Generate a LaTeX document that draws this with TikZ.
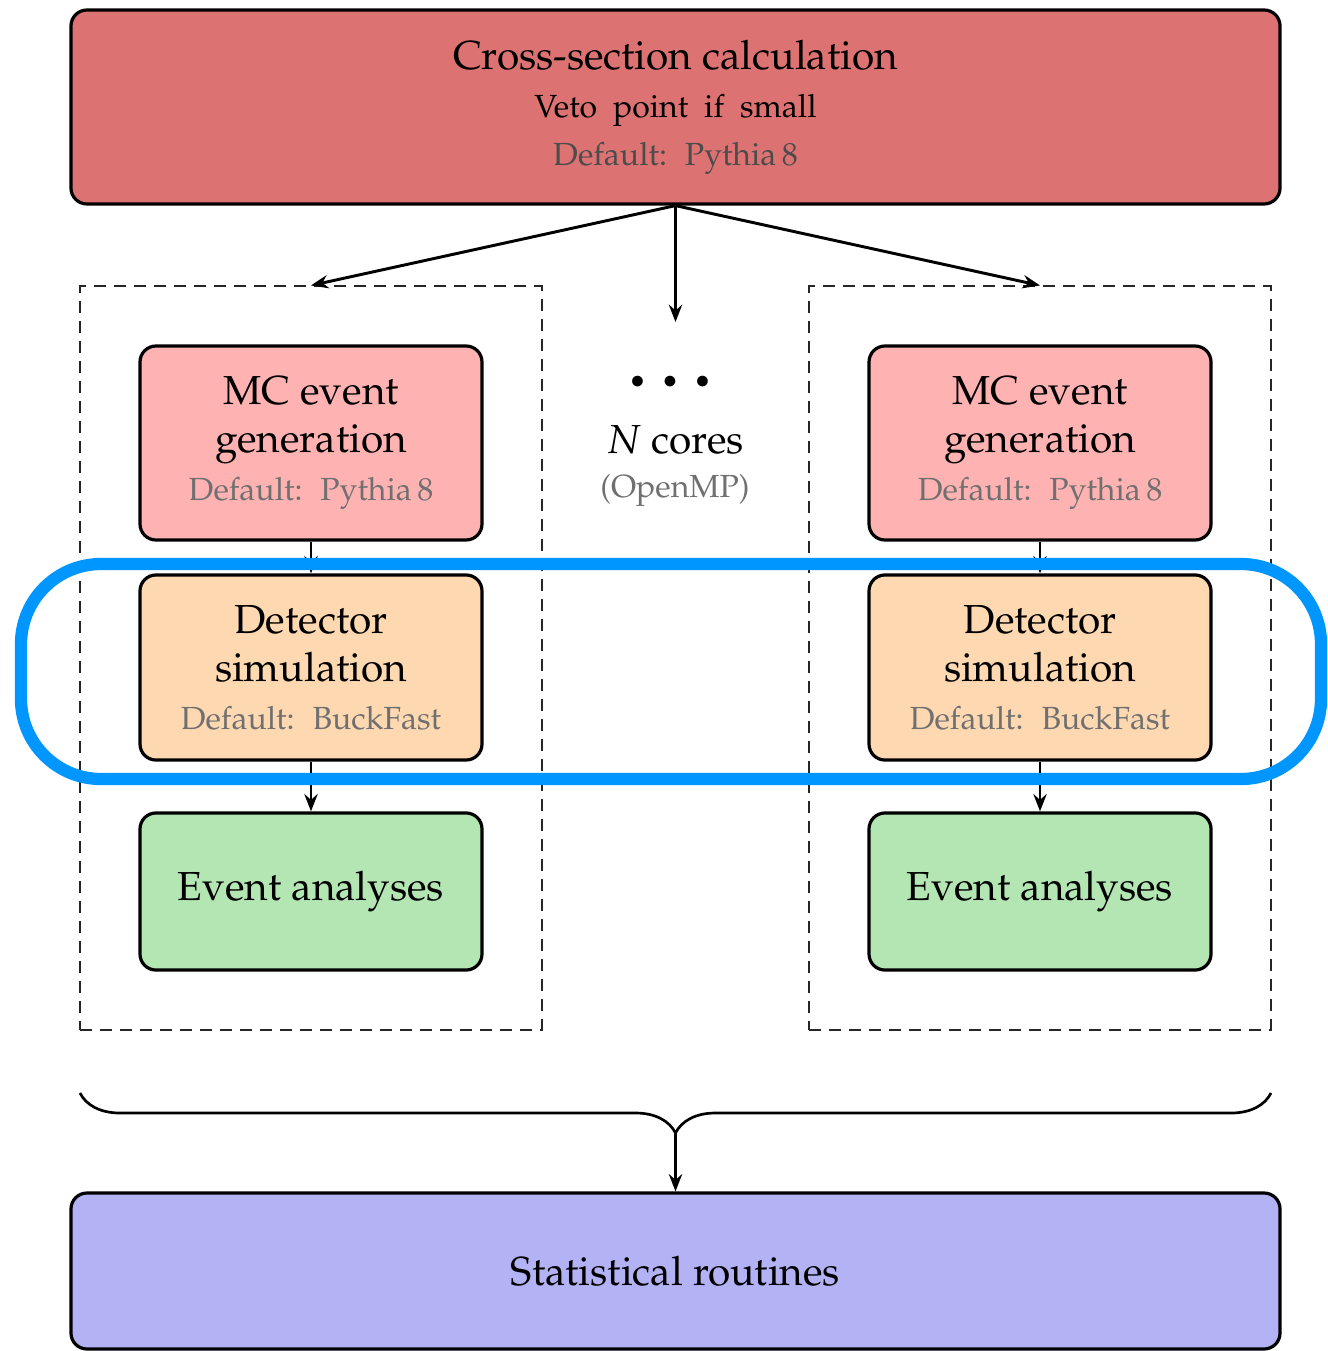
\documentclass[tikz,border=0pt]{standalone}
\usepackage[T1]{fontenc}
\usepackage{mathpazo}
\usepackage{xcolor}
\usepackage{tikz}
\usetikzlibrary{arrows.meta, positioning, fit, calc, decorations.pathreplacing}
\definecolor{xsecred}{RGB}{221, 114, 114}
\definecolor{genpink}{RGB}{255, 178, 178}
\definecolor{detpeach}{RGB}{254, 216, 177}
\definecolor{anagreen}{RGB}{179, 230, 179}
\definecolor{statblue}{RGB}{178, 178, 245}
\definecolor{loopblue}{RGB}{0, 150, 255}
\definecolor{subgray}{RGB}{112, 112, 112}
\newcommand{\subtxt}[1]{{\fontsize{12}{13}\selectfont #1}}
\tikzset{
    stage/.style={rectangle, rounded corners=6pt, draw=black, very thick, align=center, font=\fontsize{15.2}{18}\selectfont, minimum width=128.25pt, minimum height=72.75pt, inner sep=0pt},
    widestage/.style={stage, minimum width=453.4pt},
    corebox/.style={draw=black!85, dash pattern=on 4.5pt off 3pt, line width=0.7pt, inner sep=21.75pt},
    arrow/.style={line width=1.1pt, -{Stealth[length=6.5pt, width=5pt, inset=2.2pt]}}
}

\begin{document}
\begin{tikzpicture}[x=0.375pt, y=-0.375pt]
    \useasboundingbox (0,0) rectangle (1327,1351);

    % Cross-section stage
    \node[widestage, fill=xsecred] (xsec) at (675.5,107) {Cross-section calculation\\ \subtxt{Veto\ \ point\ \ if\ \ small}\\ \subtxt{\color{black!70}Default:~ Pythia\,8}};

    % Left core
    \node[stage, fill=genpink] (genL) at (311,443) {MC event\\generation\\ \subtxt{\color{subgray}Default:~ Pythia\,8}};
    \node[stage, fill=detpeach, minimum height=69.4pt] (detL) at (311,667.5) {Detector\\simulation\\ \subtxt{\color{subgray}Default:~ BuckFast}};
    \node[stage, fill=anagreen, minimum height=58.9pt] (anaL) at (311,891.5) {Event analyses};
    \node[corebox, fit=(genL)(anaL)] (coreL) {};

    % Right core
    \node[stage, fill=genpink] (genR) at (1040,443) {MC event\\generation\\ \subtxt{\color{subgray}Default:~ Pythia\,8}};
    \node[stage, fill=detpeach, minimum height=69.4pt] (detR) at (1040,667.5) {Detector\\simulation\\ \subtxt{\color{subgray}Default:~ BuckFast}};
    \node[stage, fill=anagreen, minimum height=58.9pt] (anaR) at (1040,891.5) {Event analyses};
    \node[corebox, fit=(genR)(anaR)] (coreR) {};

    % Cores in between
    \node (dots) at (670,382) {\fontsize{10}{10}\selectfont$\bullet\hspace{4.8pt}\bullet\hspace{4.8pt}\bullet$};
    \node (ncores) at (675,440) {\fontsize{15.2}{18}\selectfont$N$ cores};
    \node (omp) at (675,490) {\subtxt{\color{subgray}(OpenMP)}};
    \coordinate (fanout) at (675.5,322);

    % Fan-out arrows
    \draw[arrow] (xsec.south) -- (coreL.north);
    \draw[arrow] (xsec.south) -- (fanout);
    \draw[arrow] (xsec.south) -- (coreR.north);
    \draw[arrow] (genL) -- (detL);
    \draw[arrow] (detL) -- (anaL);
    \draw[arrow] (genR) -- (detR);
    \draw[arrow] (detR) -- (anaR);

    % Highlight
    \draw[loopblue, line width=4.6pt, rounded corners=30pt] (21,564) rectangle (1321,779);

    % Merge
    \coordinate (braceL) at (80,1093);
    \coordinate (braceR) at (1271,1093);
    \coordinate (braceTip) at (675.5,1133);
    \draw[line width=1pt, decorate, decoration={brace, mirror, amplitude=15pt}] (braceL) -- (braceR);

    \node[widestage, fill=statblue, minimum height=58.5pt] (stat) at (675.5,1271) {Statistical routines};
    \draw[arrow] (braceTip) -- (stat);
\end{tikzpicture}
\end{document}
